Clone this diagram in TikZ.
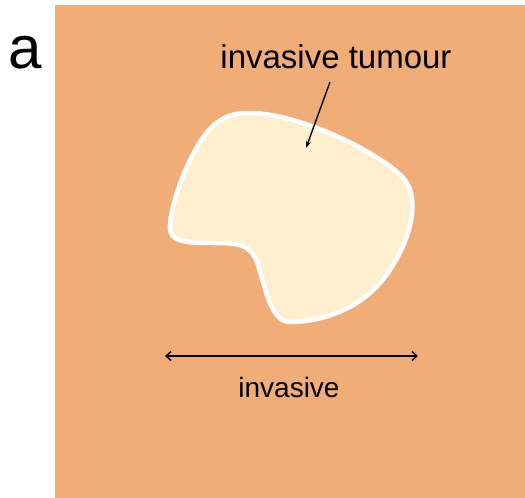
\documentclass[tikz,border=0pt]{standalone}
\usepackage{fontspec}
\setmainfont{Liberation Sans}
\usetikzlibrary{arrows.meta}
\definecolor{tissue}{RGB}{240,173,120}
\definecolor{tumour}{RGB}{254,240,206}
\begin{document}
\begin{tikzpicture}[x=1pt,y=-1pt,
  lbl/.style={inner sep=0pt,anchor=base,text=black},
  ptr/.style={line width=1.4pt,-{Stealth[length=7pt,width=5pt]}},
  span/.style={line width=1.4pt,{Straight Barb[length=5pt,width=9pt]}-{Straight Barb[length=5pt,width=9pt]}}]
\useasboundingbox (0,0) rectangle (525,498);
\fill[tissue] (55,5) rectangle (525,498);
\node[lbl,font=\fontsize{60}{62}\selectfont] (a) at (25,68) {a};
\draw[line width=4.5pt,white,fill=tumour]
  (250,113) .. controls (300,113) and (385,155) .. (405,180)
  .. controls (420,200) and (412,240) .. (385,277)
  .. controls (360,310) and (320,322) .. (290,322)
  .. controls (270,322) and (265,285) .. (257,262)
  .. controls (250,245) and (240,243) .. (215,243)
  .. controls (185,243) and (168,242) .. (170,225)
  .. controls (172,195) and (195,140) .. (215,124)
  .. controls (228,114) and (238,113) .. (250,113) -- cycle;
\node[lbl,font=\fontsize{33}{36}\selectfont] (tt) at (336,68) {invasive tumour};
\coordinate (tip) at (306,148);
\draw[ptr] (330,82) -- (tip);
\coordinate (L) at (165,356);
\coordinate (R) at (418,356);
\draw[span] (L) -- (R);
\node[lbl,font=\fontsize{28}{32}\selectfont] (inv) at (289,397) {invasive};
\end{tikzpicture}
\end{document}
